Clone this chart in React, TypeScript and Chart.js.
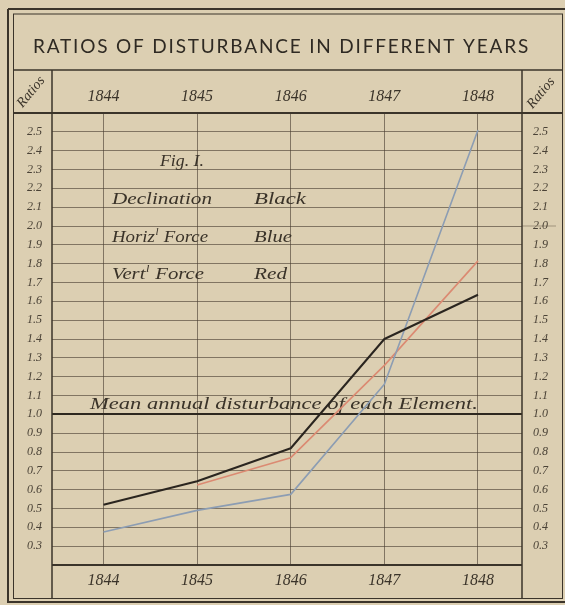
import React, { useEffect, useRef } from "react";
import { Chart, registerables } from "chart.js";

Chart.register(...registerables);

// ---- data ----
const years = [1844, 1845, 1846, 1847, 1848];
const declination = [0.52, 0.645, 0.82, 1.4, 1.635];
const horizontalForce = [0.375, 0.49, 0.575, 1.16, 2.51];
const verticalForce = [null, 0.625, 0.77, 1.26, 1.815];
const ratioTicks = [0.2, 0.3, 0.4, 0.5, 0.6, 0.7, 0.8, 0.9, 1.0, 1.1, 1.2, 1.3, 1.4, 1.5, 1.6, 1.7, 1.8, 1.9, 2.0, 2.1, 2.2, 2.3, 2.4, 2.5, 2.6];
const labelledRatios = [0.3, 0.4, 0.5, 0.6, 0.7, 0.8, 0.9, 1.0, 1.1, 1.2, 1.3, 1.4, 1.5, 1.6, 1.7, 1.8, 1.9, 2.0, 2.1, 2.2, 2.3, 2.4, 2.5];
const chartTitle = "RATIOS OF DISTURBANCE IN DIFFERENT YEARS";
const axisTitle = "Ratios";
const figLabel = "Fig. I.";
const legendNames = ["Declination", "Horiz", "Vert"];
const legendSups = ["", "l", "l"];
const legendRests = ["", " Force", " Force"];
const legendColours = ["Black", "Blue", "Red"];
const meanNote = "Mean annual disturbance of each Element.";

const PAPER = "#dccfb2";
const INK = "#3a3329";
const GRID = "rgba(72,62,48,0.62)";
const SERIF_I = "italic 17px 'Liberation Serif', 'DejaVu Serif', serif";

function fitText(ctx: CanvasRenderingContext2D, text: string, x: number, y: number, w: number, font: string) {
  ctx.save();
  ctx.font = font;
  ctx.textAlign = "left";
  ctx.textBaseline = "middle";
  const m = ctx.measureText(text).width;
  ctx.translate(x, y);
  ctx.scale(w / m, 1);
  ctx.fillText(text, 0, 0);
  ctx.restore();
}

function supText(ctx: CanvasRenderingContext2D, main: string, sup: string, rest: string, x: number, y: number, w: number) {
  ctx.save();
  ctx.textAlign = "left";
  ctx.textBaseline = "middle";
  const big = SERIF_I;
  const small = "italic 10px 'Liberation Serif', 'DejaVu Serif', serif";
  ctx.font = big;
  const w1 = ctx.measureText(main).width;
  const w3 = ctx.measureText(rest).width;
  ctx.font = small;
  const w2 = sup ? ctx.measureText(sup).width + 1 : 0;
  const total = w1 + w2 + w3;
  ctx.translate(x, y);
  ctx.scale(w / total, 1);
  ctx.font = big;
  ctx.fillText(main, 0, 0);
  if (sup) {
    ctx.font = small;
    ctx.fillText(sup, w1 + 0.5, -6);
  }
  ctx.font = big;
  ctx.fillText(rest, w1 + w2, 0);
  ctx.restore();
}

const paperPlugin = {
  id: "paper",
  beforeDraw(chart: any) {
    const ctx = chart.ctx;
    ctx.save();
    ctx.fillStyle = PAPER;
    ctx.fillRect(0, 0, chart.width, chart.height);
    ctx.restore();
  },
  beforeDatasetsDraw(chart: any) {
    const ctx: CanvasRenderingContext2D = chart.ctx;
    const ys = chart.scales.y;
    ctx.save();
    ctx.fillStyle = INK;
    fitText(ctx, figLabel, 160, 162, 44, SERIF_I);
    const rowsY = [200, 238, 275];
    const rowsW = [100, 96, 92];
    legendNames.forEach((n, i) => {
      supText(ctx, n, legendSups[i], legendRests[i], 112, rowsY[i], rowsW[i]);
    });
    const colW = [52, 38, 33];
    legendColours.forEach((c, i) => {
      fitText(ctx, c, 254, rowsY[i], colW[i], SERIF_I);
    });
    const y1 = ys.getPixelForValue(1.0);
    fitText(ctx, meanNote, 90, y1 - 10, 388, SERIF_I);
    ctx.restore();
  },
  afterDraw(chart: any) {
    const ctx: CanvasRenderingContext2D = chart.ctx;
    const a = chart.chartArea;
    const ys = chart.scales.y;
    ctx.save();
    ctx.strokeStyle = "#3b342a";
    const line = (x1: number, y1: number, x2: number, y2: number, w: number) => {
      ctx.lineWidth = w;
      ctx.beginPath();
      ctx.moveTo(x1, y1);
      ctx.lineTo(x2, y2);
      ctx.stroke();
    };
    // outer double frame
    line(8, 9, 565, 9, 2);
    line(8, 9, 8, 603, 2);
    line(8, 602, 565, 602, 2);
    line(13, 14, 563, 14, 1);
    line(13.5, 14, 13.5, 598, 1);
    line(13, 598.5, 563, 598.5, 1);
    line(562.5, 14, 562.5, 598, 1);
    // title box bottom & header separator
    line(13, 70, 563, 70, 1.5);
    line(13, a.top, 563, a.top, 2);
    // column separators
    line(a.left, 70, a.left, 598, 1.5);
    line(a.right, 70, a.right, 598, 1.5);
    // plot bottom line
    line(a.left, a.bottom, a.right, a.bottom, 2);
    // faint line at 2.0 in right column
    ctx.strokeStyle = "rgba(72,62,48,0.4)";
    line(a.right, ys.getPixelForValue(2.0), 556, ys.getPixelForValue(2.0), 1);

    // title
    ctx.fillStyle = "#2f2a23";
    ctx.font = "400 19px Lato, 'Open Sans', sans-serif";
    ctx.textBaseline = "middle";
    ctx.textAlign = "left";
    const target = 497;
    const natural = ctx.measureText(chartTitle).width;
    const ls = (target - natural) / chartTitle.length;
    (ctx as any).letterSpacing = ls.toFixed(2) + "px";
    ctx.fillText(chartTitle, 33, 47);
    (ctx as any).letterSpacing = "0px";

    // rotated "Ratios"
    ctx.fillStyle = INK;
    ctx.font = "italic 14px 'Liberation Serif', 'DejaVu Serif', serif";
    ctx.textAlign = "center";
    [[31, 92], [541, 93]].forEach(([cx, cy]) => {
      ctx.save();
      ctx.translate(cx, cy);
      ctx.rotate(-Math.PI * 0.28);
      ctx.fillText(axisTitle, 0, 0);
      ctx.restore();
    });
    ctx.restore();
  },
};

const yearTicks = (s: any) => {
  s.ticks = years.map((v) => ({ value: v }));
};
const ratioTickBuild = (s: any) => {
  s.ticks = ratioTicks.map((v) => ({ value: v }));
};
const ratioLabel = (v: any) => {
  const n = Number(v);
  return labelledRatios.some((r) => Math.abs(r - n) < 1e-6) ? n.toFixed(1) : "";
};

export default function App() {
  const ref = useRef<HTMLCanvasElement | null>(null);

  useEffect(() => {
    if (!ref.current) return;
    const yearFont = { family: "'Liberation Serif', 'DejaVu Serif', serif", size: 16, style: "italic" as const };
    const ratioFont = { family: "'Liberation Serif', 'DejaVu Serif', serif", size: 12, style: "italic" as const };
    const chart = new Chart(ref.current, {
      type: "line",
      data: {
        datasets: [
          {
            label: "Declination",
            data: years.map((x, i) => ({ x, y: declination[i] })),
            borderColor: "#2a251f",
            borderWidth: 2,
          },
          {
            label: "Horizontal Force",
            data: years.map((x, i) => ({ x, y: horizontalForce[i] })),
            borderColor: "#8c9db3",
            borderWidth: 1.6,
          },
          {
            label: "Vertical Force",
            data: years.map((x, i) => ({ x, y: verticalForce[i] as any })),
            borderColor: "#db8a72",
            borderWidth: 1.6,
          },
        ] as any,
      },
      options: {
        animation: false,
        responsive: false,
        layout: { padding: { left: 8, right: 7, top: 70, bottom: 5 } },
        elements: {
          point: { radius: 0 },
          line: { tension: 0, fill: false, borderJoinStyle: "round" },
        },
        plugins: { legend: { display: false }, tooltip: { enabled: false }, title: { display: false } },
        scales: {
          x: {
            type: "linear",
            position: "bottom",
            min: 1843.45,
            max: 1848.47,
            afterBuildTicks: yearTicks,
            afterFit: (s: any) => {
              s.height = 35;
            },
            border: { display: false },
            grid: { color: GRID, lineWidth: 1, drawTicks: false },
            ticks: { font: yearFont, color: INK, padding: 6, maxRotation: 0, autoSkip: false, callback: (v: any) => String(v) },
          },
          x2: {
            type: "linear",
            position: "top",
            min: 1843.45,
            max: 1848.47,
            afterBuildTicks: yearTicks,
            afterFit: (s: any) => {
              s.height = 43;
            },
            border: { display: false },
            grid: { display: false, drawTicks: false },
            ticks: { font: yearFont, color: INK, padding: 7, maxRotation: 0, autoSkip: false, callback: (v: any) => String(v) },
          },
          y: {
            type: "linear",
            position: "left",
            min: 0.2,
            max: 2.6,
            afterBuildTicks: ratioTickBuild,
            afterFit: (s: any) => {
              s.width = 44;
            },
            border: { display: false },
            grid: {
              drawTicks: false,
              color: (c: any) => (Math.abs(c.tick.value - 1) < 1e-6 ? "#2e281f" : GRID),
              lineWidth: (c: any) => (Math.abs(c.tick.value - 1) < 1e-6 ? 2 : 1),
            },
            ticks: { font: ratioFont, color: "#4a4236", padding: 10, autoSkip: false, callback: ratioLabel },
          },
          y2: {
            type: "linear",
            position: "right",
            min: 0.2,
            max: 2.6,
            afterBuildTicks: ratioTickBuild,
            afterFit: (s: any) => {
              s.width = 36;
            },
            border: { display: false },
            grid: { display: false, drawTicks: false },
            ticks: { font: ratioFont, color: "#4a4236", padding: 11, autoSkip: false, callback: ratioLabel },
          },
        },
      } as any,
      plugins: [paperPlugin],
    });
    return () => chart.destroy();
  }, []);

  return (
    <div style={{ position: "absolute", left: 0, top: 0, width: 565, height: 605 }}>
      <canvas ref={ref} width={565} height={605} style={{ display: "block", width: 565, height: 605 }} />
    </div>
  );
}
